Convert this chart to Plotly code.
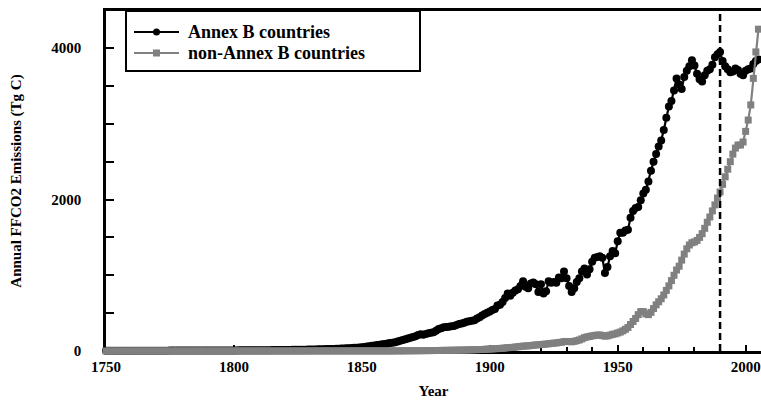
import plotly.graph_objects as go

years = list(range(1750, 2006))

annex_b = [
    3, 3, 3, 3, 3, 3, 3, 3, 3, 3,
    3, 3, 3, 4, 4, 4, 4, 4, 4, 4,
    4, 4, 4, 4, 4, 5, 5, 5, 5, 5,
    5, 5, 5, 5, 6, 6, 6, 6, 6, 6,
    6, 7, 7, 7, 7, 7, 8, 8, 8, 8,
    8, 8, 9, 9, 9, 9, 10, 10, 10, 10,
    10, 10, 11, 11, 11, 12, 12, 12, 13, 13,
    13, 14, 14, 15, 15, 16, 16, 17, 18, 19,
    20, 21, 21, 22, 23, 24, 25, 26, 27, 28,
    30, 31, 32, 34, 35, 37, 39, 42, 44, 47,
    50, 54, 58, 62, 68, 74, 80, 84, 88, 94,
    100, 104, 108, 116, 126, 136, 146, 156, 164, 176,
    186, 196, 210, 222, 216, 226, 234, 240, 248, 266,
    290, 302, 314, 318, 320, 326, 330, 344, 358, 364,
    372, 386, 392, 400, 406, 428, 446, 468, 490, 504,
    520, 540, 556, 600, 610, 646, 700, 760, 730, 770,
    800, 815, 860, 920, 850, 830, 890, 905, 880, 780,
    880, 760, 790, 920, 900, 910, 900, 970, 960, 1050,
    960, 860, 780, 830, 910, 960, 1050, 1090, 1010, 1080,
    1180, 1230, 1240, 1250, 1230, 1030, 1110, 1250, 1320, 1290,
    1450, 1560, 1560, 1590, 1600, 1760, 1850, 1890, 1900, 1990,
    2080, 2130, 2240, 2380, 2500, 2600, 2700, 2780, 2920, 3080,
    3230, 3300, 3440, 3600, 3520, 3460, 3620, 3700, 3760, 3840,
    3770, 3660, 3590, 3560, 3640, 3700, 3720, 3780, 3880, 3920,
    3950, 3830, 3760, 3720, 3680, 3690, 3730, 3710, 3660, 3640,
    3700, 3720, 3730, 3790, 3830, 3850,
]

non_annex_b = (
    [0] * 80 + [1] * 30 + [
    1, 1, 1, 2, 2, 2, 2, 3, 3, 3,
    3, 4, 4, 4, 5, 5, 5, 6, 6, 7,
    7, 8, 8, 9, 9, 10, 10, 11, 12, 12,
    13, 14, 15, 16, 17, 18, 19, 20, 22, 24,
    26, 28, 30, 32, 34, 36, 40, 44, 46, 48,
    52, 56, 60, 64, 66, 68, 72, 76, 80, 82,
    86, 88, 92, 96, 100, 104, 106, 112, 116, 124,
    126, 124, 122, 128, 136, 146, 160, 176, 186, 192,
    200, 206, 210, 212, 204, 196, 200, 210, 220, 226,
    238, 250, 266, 286, 310, 350, 390, 430, 480, 520,
    520, 490, 480, 510, 560, 610, 650, 690, 740, 800,
    860, 930, 1000, 1070, 1120, 1200, 1280, 1350, 1400, 1430,
    1440, 1460, 1500, 1550, 1620, 1700, 1770, 1850, 1930, 2020,
    2100, 2200, 2300, 2400, 2500, 2600, 2680, 2720, 2720, 2760,
    2900, 3050, 3250, 3600, 3950, 4250,
])

series_names = ["Annex B countries", "non-Annex B countries"]
series_colors = ["black", "#808080"]
series_symbols = ["circle", "square"]

x_ticks = [1750, 1800, 1850, 1900, 1950, 2000]
y_ticks = [0, 2000, 4000]
ref_year = 1990

FONT = "Liberation Serif"
W, H = 761, 403
ML, MR, MT, MB = 106, 0, 11, 52
PW, PH = W - ML - MR, H - MT - MB


def px_x(p):
    return (p - ML) / PW


def px_y(p):
    return (H - MB - p) / PH


fig = go.Figure()
for vals, name, col, sym, msize in zip([annex_b, non_annex_b], series_names,
                                       series_colors, series_symbols, [8, 7]):
    fig.add_trace(go.Scatter(
        x=years, y=vals, name=name, mode="lines+markers",
        line=dict(color=col, width=2.2),
        marker=dict(symbol=sym, size=msize, color=col),
        cliponaxis=False, showlegend=False,
    ))

fig.add_shape(type="line", xref="x", yref="paper", x0=ref_year, x1=ref_year,
              y0=0, y1=1, line=dict(color="black", width=2.5, dash="7px,4px"))

# custom legend (layout decoration)
shapes = [dict(type="rect", xref="paper", yref="paper",
               x0=px_x(126), x1=px_x(420), y0=px_y(71), y1=px_y(11),
               line=dict(color="black", width=2), fillcolor="white", layer="above")]
annotations = []
rows = [32, 53]
for row, name, col, sym in zip(rows, series_names, series_colors, series_symbols):
    yp = px_y(row)
    shapes.append(dict(type="line", xref="paper", yref="paper",
                       x0=px_x(134), x1=px_x(179), y0=yp, y1=yp,
                       line=dict(color=col, width=2.2), layer="above"))
    shapes.append(dict(type="circle" if sym == "circle" else "rect",
                       xref="paper", yref="paper",
                       xsizemode="pixel", ysizemode="pixel",
                       xanchor=px_x(156.5), yanchor=yp,
                       x0=-3.5, x1=3.5, y0=-3.5, y1=3.5,
                       line=dict(color=col, width=0), fillcolor=col, layer="above"))
    annotations.append(dict(xref="paper", yref="paper", x=px_x(186), y=yp,
                            xanchor="left", yanchor="middle", showarrow=False,
                            text=name,
                            font=dict(family=FONT, size=18, weight="bold", color="black")))

fig.update_layout(
    width=W, height=H,
    margin=dict(l=ML, r=MR, t=MT, b=MB, autoexpand=False),
    paper_bgcolor="white", plot_bgcolor="white",
    font=dict(family=FONT, color="black", size=15, weight="bold"),
    showlegend=False,
    shapes=list(fig.layout.shapes) + shapes,
    annotations=annotations,
    xaxis=dict(
        range=[1750, 2006], tickvals=x_ticks, ticks="inside", ticklen=6,
        tickwidth=2, tickcolor="black", automargin=False,
        minor=dict(dtick=10, ticks="inside", ticklen=4, tickwidth=1.5, tickcolor="black"),
        showline=True, linewidth=2.5, linecolor="black", mirror=True,
        showgrid=False, zeroline=False, layer="below traces",
        tickfont=dict(family=FONT, size=15, weight="bold"),
        title=dict(text="Year", font=dict(family=FONT, size=15, weight="bold"), standoff=12),
    ),
    yaxis=dict(
        range=[0, 4490], tickvals=y_ticks, ticks="inside", ticklen=8,
        tickwidth=2, tickcolor="black", automargin=False,
        minor=dict(dtick=500, ticks="inside", ticklen=8, tickwidth=1.5, tickcolor="black"),
        showline=True, linewidth=2.5, linecolor="black", mirror=False,
        showgrid=False, zeroline=False, layer="below traces",
        tickfont=dict(family=FONT, size=15, weight="bold"),
        ticklabelstandoff=19,
        title=dict(text="Annual FFCO2 Emissions (Tg C)",
                   font=dict(family=FONT, size=15, weight="bold"), standoff=27),
    ),
)

fig.write_html("out.html", config={"displayModeBar": False},
               post_script="document.body.style.margin='0';")
